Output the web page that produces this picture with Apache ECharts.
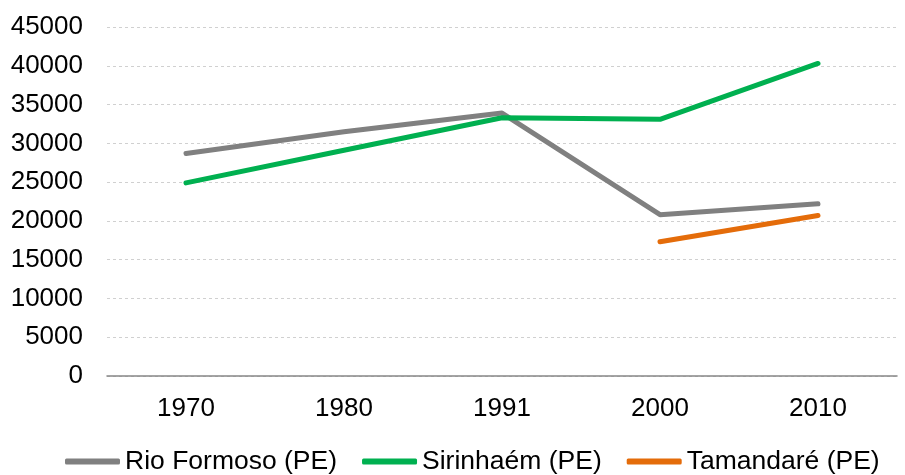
<!DOCTYPE html>
<html>
<head>
<meta charset="utf-8">
<script src="https://cdn.jsdelivr.net/npm/echarts@6/dist/echarts.min.js"></script>
<style>
  html, body { margin: 0; padding: 0; background: #fff; }
  #chart { width: 905px; height: 475px; }
</style>
</head>
<body>
<div id="chart"></div>
<script>
// anos (eixo x)
var years = ['1970', '1980', '1991', '2000', '2010'];
// populacao por municipio
var rioFormoso = [28700, 31500, 33900, 20800, 22200];
var sirinhaem = [24900, 29100, 33300, 33100, 40300];
var tamandare = [null, null, null, 17300, 20700];

var myChart = echarts.init(document.getElementById('chart'));

function serie(name, data, color) {
	return {
		name: name,
		type: 'line',
		data: data,
		symbol: 'none',
		connectNulls: false,
		lineStyle: { color: color, width: 5, cap: 'round', join: 'round' },
		itemStyle: { color: color }
	};
}

var option = {
	animation: false,
	textStyle: { fontFamily: 'Liberation Sans, Arial, sans-serif' },
	grid: { left: 107, right: 8, top: 27, bottom: 99 },
	legend: {
		top: 448,
		left: 65,
		padding: 0,
		icon: 'roundRect',
		itemWidth: 55,
		itemHeight: 6,
		itemGap: 25,
		textStyle: { fontSize: 26.5, color: '#000', fontFamily: 'Liberation Sans, Arial, sans-serif' },
		data: ['Rio Formoso (PE)', 'Sirinhaém (PE)', 'Tamandaré (PE)']
	},
	xAxis: {
		type: 'category',
		data: years,
		boundaryGap: true,
		axisLine: { lineStyle: { color: '#868686', width: 1.5 } },
		axisTick: { show: false },
		axisLabel: { color: '#000', fontSize: 26, margin: 20 }
	},
	yAxis: {
		type: 'value',
		min: 0,
		max: 45000,
		interval: 5000,
		axisLine: { show: false },
		axisTick: { show: false },
		axisLabel: {
			color: '#000', fontSize: 26, margin: 24,
			formatter: function(value) { return String(value); }
		},
		splitLine: { lineStyle: { color: '#d0d0d0', type: [3, 3], width: 1 } }
	},
	series: [
		serie('Rio Formoso (PE)', rioFormoso, '#808080'),
		serie('Sirinhaém (PE)', sirinhaem, '#00b050'),
		serie('Tamandaré (PE)', tamandare, '#e46c0a')
	]
};
myChart.setOption(option);
</script>
</body>
</html>
